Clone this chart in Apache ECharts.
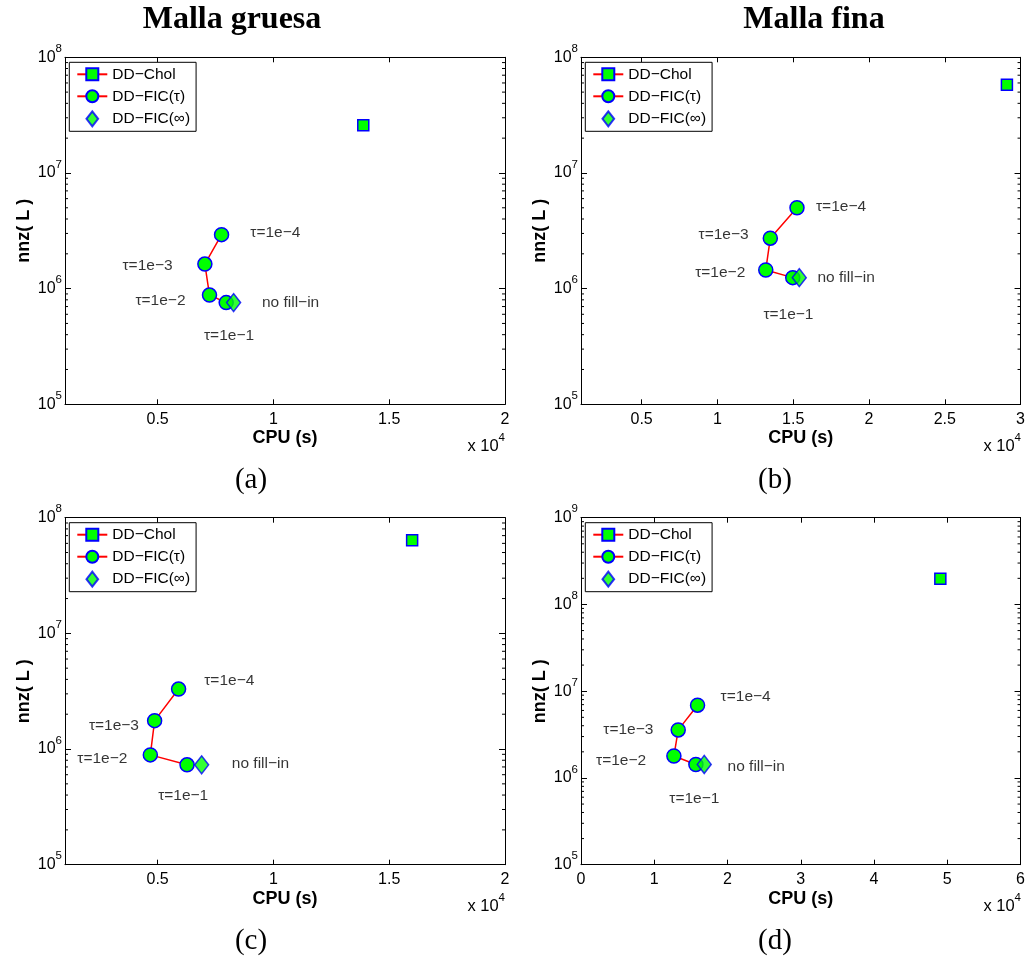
<!DOCTYPE html>
<html>
<head>
<meta charset="utf-8">
<script src="https://cdn.jsdelivr.net/npm/echarts@6/dist/echarts.min.js"></script>
<style>
html, body { margin: 0; padding: 0; background: #fff; }
#fig { width: 1028px; height: 958px; }
</style>
</head>
<body>
<div id="fig"></div>
<script>
var chartDom = document.getElementById('fig');
var figChart = echarts.init(chartDom, null, { renderer: 'canvas' });
var option;

var names = ['DD\u2212Chol', 'DD\u2212FIC(\u03c4)', 'DD\u2212FIC(\u221e)'];

// panels: (a) gruesa, (b) fina, (c) gruesa, (d) fina
var cholCpu = [13880, 29100, 15990, 49050];
var cholNnz = [2.58e7, 5.8e7, 6.37e7, 1.98e8];

// DD-FIC(tau) for tau = 1e-4, 1e-3, 1e-2, 1e-1
var ficCpuA = [7760, 7040, 7240, 7960];
var ficNnzA = [2.93e6, 1.63e6, 8.8e5, 7.57e5];
var ficCpuB = [15250, 13490, 13190, 14970];
var ficNnzB = [5.0e6, 2.73e6, 1.45e6, 1.245e6];
var ficCpuC = [5905, 4870, 4685, 6270];
var ficNnzC = [3.3e6, 1.76e6, 8.9e5, 7.3e5];
var ficCpuD = [15910, 13270, 12680, 15680];
var ficNnzD = [6.9e6, 3.58e6, 1.79e6, 1.43e6];

// DD-FIC(inf) = no fill-in
var infCpu = [8280, 15400, 6900, 16820];
var infNnz = [7.57e5, 1.245e6, 7.3e5, 1.43e6];

// text notes, anchored at their left end
var noteText = ['\u03c4=1e\u22124', '\u03c4=1e\u22123', '\u03c4=1e\u22122', '\u03c4=1e\u22121', 'no fill\u2212in'];
var noteCpuA = [9000, 3480, 4040, 7000, 9500];
var noteNnzA = [3.03e6, 1.58e6, 7.8e5, 3.9e5, 7.6e5];
var noteCpuB = [16500, 8750, 8530, 13030, 16600];
var noteNnzB = [5.1e6, 2.9e6, 1.37e6, 5.9e5, 1.245e6];
var noteCpuC = [7010, 2030, 1530, 5020, 8200];
var noteNnzC = [3.93e6, 1.6e6, 8.26e5, 3.92e5, 7.5e5];
var noteCpuD = [19050, 3040, 2045, 12040, 20000];
var noteNnzD = [8.75e6, 3.64e6, 1.6e6, 5.78e5, 1.34e6];

// axes
var xMin = [1000, 1000, 1000, 0];
var xMax = [20000, 30000, 20000, 60000];
var xTicksA = [5000, 10000, 15000, 20000];
var xTicksB = [5000, 10000, 15000, 20000, 25000, 30000];
var xTicksD = [0, 10000, 20000, 30000, 40000, 50000, 60000];
var yMin = [1e5, 1e5, 1e5, 1e5];
var yMax = [1e8, 1e8, 1e8, 1e9];
var yTicks3 = [1e5, 1e6, 1e7, 1e8];
var yTicks4 = [1e5, 1e6, 1e7, 1e8, 1e9];

var ficCpu = [ficCpuA, ficCpuB, ficCpuC, ficCpuD];
var ficNnz = [ficNnzA, ficNnzB, ficNnzC, ficNnzD];
var noteCpu = [noteCpuA, noteCpuB, noteCpuC, noteCpuD];
var noteNnz = [noteNnzA, noteNnzB, noteNnzC, noteNnzD];
var xTicks = [xTicksA, xTicksB, xTicksA, xTicksD];
var yTicks = [yTicks3, yTicks3, yTicks3, yTicks4];

// layout of the four axes boxes
var boxes = [
    { left: 65, top: 57.3 },
    { left: 581, top: 57.3 },
    { left: 65, top: 517.7 },
    { left: 581, top: 517.7 }
];
var boxW = 440, boxH = 347;

var sans = 'Liberation Sans, Arial, sans-serif';
var serif = 'Liberation Serif, Times New Roman, serif';
var GREEN = '#00ff00', BLUE = '#0000ff', RED = '#ff0000';

function pairs(xs, ys) {
    return xs.map(function (x, k) { return [x, ys[k]]; });
}

// 2..9 inside each decade, for the log minor ticks
function minorTicks(lo, hi) {
    var out = [];
    for (var d = lo; d < hi; d *= 10) {
        for (var k = 2; k <= 9; k++) {
            out.push(k * d);
        }
    }
    return out;
}

var grids = [], xAxes = [], yAxes = [], legends = [], series = [], graphics = [];

boxes.forEach(function (b, i) {
    grids.push({ left: b.left, top: b.top, width: boxW, height: boxH, containLabel: false });

    xAxes[i] = {
        type: 'value', gridIndex: i, position: 'bottom',
        min: xMin[i], max: xMax[i],
        name: 'CPU (s)', nameLocation: 'middle', nameGap: 25,
        nameTextStyle: { fontFamily: sans, fontSize: 18, fontWeight: 'bold', color: '#000' },
        axisLine: { show: true, onZero: false, lineStyle: { color: '#000', width: 1 } },
        axisTick: { show: true, inside: true, length: 5, lineStyle: { color: '#000' }, customValues: xTicks[i] },
        axisLabel: {
            show: true, margin: 7, color: '#000', fontFamily: sans, fontSize: 16,
            customValues: xTicks[i],
            formatter: function (v) { return String(v / 1e4); }
        },
        splitLine: { show: false }
    };
    xAxes[i + 4] = {
        type: 'value', gridIndex: i, position: 'top',
        min: xMin[i], max: xMax[i],
        axisLine: { show: true, onZero: false, lineStyle: { color: '#000', width: 1 } },
        axisTick: { show: true, inside: true, length: 5, lineStyle: { color: '#000' }, customValues: xTicks[i] },
        axisLabel: { show: false },
        splitLine: { show: false }
    };

    yAxes[i] = {
        type: 'log', logBase: 10, gridIndex: i, position: 'left',
        min: yMin[i], max: yMax[i],
        name: 'nnz( L )', nameLocation: 'middle', nameGap: 32, nameRotate: 90,
        nameTextStyle: { fontFamily: sans, fontSize: 18, fontWeight: 'bold', color: '#000' },
        axisLine: { show: true, onZero: false, lineStyle: { color: '#000', width: 1 } },
        axisTick: { show: true, inside: true, length: 6, lineStyle: { color: '#000' }, customValues: yTicks[i] },
        axisLabel: {
            show: true, margin: 3, color: '#000',
            customValues: yTicks[i],
            formatter: function (v) {
                return '{b|10}{s|' + Math.round(Math.log10(v)) + '}';
            },
            rich: {
                b: { fontFamily: sans, fontSize: 16, lineHeight: 16, color: '#000', verticalAlign: 'middle' },
                s: { fontFamily: sans, fontSize: 11.5, lineHeight: 11.5, color: '#000', verticalAlign: 'middle', padding: [0, 0, 17, 0] }
            }
        },
        splitLine: { show: false }
    };
    yAxes[i + 4] = {
        type: 'log', logBase: 10, gridIndex: i, position: 'right',
        min: yMin[i], max: yMax[i],
        axisLine: { show: true, onZero: false, lineStyle: { color: '#000', width: 1 } },
        axisTick: { show: true, inside: true, length: 6, lineStyle: { color: '#000' }, customValues: yTicks[i] },
        axisLabel: { show: false },
        splitLine: { show: false }
    };

    legends.push({
        orient: 'vertical',
        left: b.left + 4.3, top: b.top + 5,
        data: [names[0], names[1], { name: names[2], icon: 'path://M7,0L14,9L7,18L0,9Z' }],
        itemWidth: 30, itemHeight: 15, itemGap: 6,
        padding: [4, 6, 4, 7],
        borderColor: '#000', borderWidth: 1, backgroundColor: '#fff',
        selectedMode: false,
        textStyle: { fontFamily: sans, fontSize: 15.5, color: '#000' }
    });

    var marker = { color: GREEN, borderColor: BLUE, borderWidth: 1.5 };

    series.push({
        name: names[0], type: 'line', xAxisIndex: i, yAxisIndex: i,
        data: [[cholCpu[i], cholNnz[i]]],
        symbol: 'rect', symbolSize: 11,
        itemStyle: marker, lineStyle: { color: RED, width: 1.5 },
        z: 3
    });
    series.push({
        name: names[1], type: 'line', xAxisIndex: i, yAxisIndex: i,
        data: pairs(ficCpu[i], ficNnz[i]),
        symbol: 'circle', symbolSize: 14,
        itemStyle: marker, lineStyle: { color: RED, width: 1.5 },
        z: 3
    });
    series.push({
        name: names[2], type: 'scatter', xAxisIndex: i, yAxisIndex: i,
        data: [[infCpu[i], infNnz[i]]],
        symbol: 'diamond', symbolSize: [14, 18],
        itemStyle: marker,
        z: 4
    });
    // text notes
    series.push({
        name: 'notes', type: 'scatter', xAxisIndex: i, yAxisIndex: i, silent: true,
        symbolSize: 0.1, itemStyle: { color: 'rgba(0,0,0,0)' },
        data: noteText.map(function (t, k) {
            return { name: t, value: [noteCpu[i][k], noteNnz[i][k]] };
        }),
        label: {
            show: true, position: 'right', distance: 0,
            formatter: function (p) { return p.name; },
            fontFamily: sans, fontSize: 15.5, color: '#000'
        }
    });
    // minor ticks of the log axis, left and right sides
    series.push({
        name: 'minor', type: 'custom', xAxisIndex: i, yAxisIndex: i, silent: true,
        data: minorTicks(yMin[i], yMax[i]).map(function (v) { return [xMin[i], v]; }),
        renderItem: function (params, api) {
            var v = api.value(1);
            var l = api.coord([xMin[i], v]);
            var r = api.coord([xMax[i], v]);
            return {
                type: 'group',
                children: [
                    { type: 'line', shape: { x1: l[0], y1: l[1], x2: l[0] + 3, y2: l[1] }, style: { stroke: '#000', lineWidth: 1 } },
                    { type: 'line', shape: { x1: r[0], y1: r[1], x2: r[0] - 3, y2: r[1] }, style: { stroke: '#000', lineWidth: 1 } }
                ]
            };
        }
    });

    // x 10^4 multiplier
    graphics.push({
        type: 'text', x: b.left + boxW, y: b.top + boxH + 42,
        style: {
            text: '{b|x 10}{s|4}',
            align: 'right', verticalAlign: 'middle',
            rich: {
                b: { fontFamily: sans, fontSize: 16.5, lineHeight: 16, fill: '#000', verticalAlign: 'middle' },
                s: { fontFamily: sans, fontSize: 11.5, lineHeight: 11.5, fill: '#000', verticalAlign: 'middle', padding: [0, 0, 17, 0] }
            }
        }
    });
});

// headers and captions
var headers = [['Malla gruesa', 232, 20], ['Malla fina', 814, 20]];
var captions = [['(a)', 251, 480], ['(b)', 775, 480], ['(c)', 251, 941], ['(d)', 775, 941]];
headers.forEach(function (h) {
    graphics.push({
        type: 'text', x: h[1], y: h[2],
        style: { text: h[0], font: 'bold 32px ' + serif, fill: '#000', align: 'center', verticalAlign: 'middle' }
    });
});
captions.forEach(function (c) {
    graphics.push({
        type: 'text', x: c[1], y: c[2],
        style: { text: c[0], font: '29px ' + serif, fill: '#000', align: 'center', verticalAlign: 'middle' }
    });
});

option = {
    backgroundColor: '#fff',
    animation: false,
    grid: grids,
    xAxis: xAxes,
    yAxis: yAxes,
    legend: legends,
    series: series,
    graphic: graphics
};

option && figChart.setOption(option);
</script>
</body>
</html>
